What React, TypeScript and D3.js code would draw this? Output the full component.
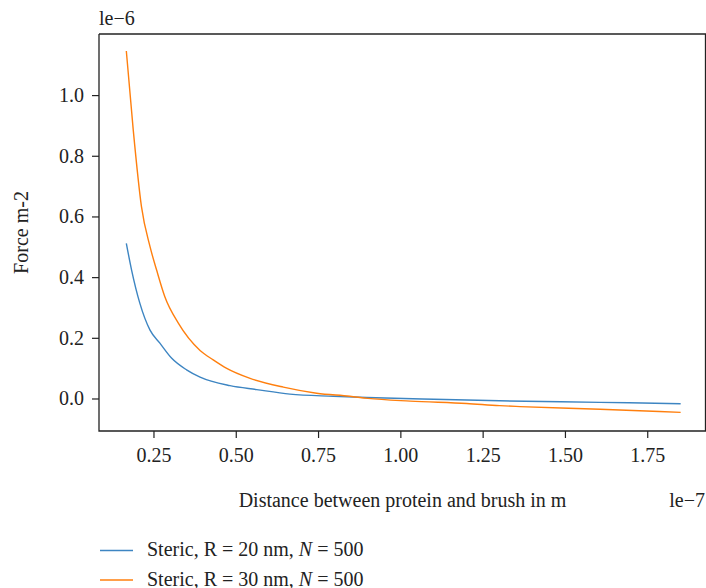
import React from "react";
import * as d3 from "d3";

// x in units of 1e-7 m, y in units of 1e-6
const xR20 = [0.166, 0.182, 0.207, 0.238, 0.268, 0.304, 0.349, 0.39, 0.481, 0.562, 0.663, 0.795, 0.896, 1.1, 1.3, 1.605, 1.85];
const yR20 = [0.513, 0.425, 0.316, 0.227, 0.184, 0.134, 0.096, 0.072, 0.044, 0.031, 0.016, 0.009, 0.005, -0.001, -0.006, -0.011, -0.0155];

const xR30 = [0.166, 0.187, 0.212, 0.238, 0.258, 0.283, 0.324, 0.39, 0.43, 0.471, 0.542, 0.643, 0.744, 0.845, 0.9, 1.028, 1.2, 1.3, 1.362, 1.605, 1.85];
const yR30 = [1.147, 0.887, 0.634, 0.502, 0.425, 0.337, 0.25, 0.16, 0.129, 0.101, 0.068, 0.039, 0.019, 0.009, 0.002, -0.007, -0.015, -0.022, -0.025, -0.034, -0.044];

const xTicks = [0.25, 0.5, 0.75, 1.0, 1.25, 1.5, 1.75];
const yTicks = [0.0, 0.2, 0.4, 0.6, 0.8, 1.0];

const seriesNames = ["Steric, R = 20 nm, ", "Steric, R = 30 nm, "];
const colors = ["#3d85c2", "#ff7f0e"];

const W = 706;
const H = 588;
const L = 99, R = 706, T = 34, B = 431;
const FONT = "'Liberation Serif', 'Times New Roman', serif";
const FS = 20;

export default function App() {
  const x = d3.scaleLinear().domain([0.083, 1.927]).range([L, R]);
  const y = d3.scaleLinear().domain([-0.1055, 1.203]).range([B, T]);
  const line = d3
    .line<[number, number]>()
    .x((d) => x(d[0]))
    .y((d) => y(d[1]))
    .curve(d3.curveMonotoneX);
  const s1 = xR20.map((v, i) => [v, yR20[i]] as [number, number]);
  const s2 = xR30.map((v, i) => [v, yR30[i]] as [number, number]);
  const series = [s1, s2];

  return (
    <svg
      width={W}
      height={H}
      style={{ position: "absolute", left: 0, top: 0, background: "#fff" }}
      fontFamily={FONT}
    >
      <rect x={0} y={0} width={W} height={H} fill="#fff" />
      {series.map((s, i) => (
        <path key={i} d={line(s) || ""} fill="none" stroke={colors[i]} strokeWidth={1.4} />
      ))}
      {/* frame */}
      <path d={`M${L},${T}H${R}`} stroke="#222" strokeWidth={1.3} />
      <path d={`M${L},${T}V${B}H${R}`} fill="none" stroke="#222" strokeWidth={1.3} />
      <path d={`M${R - 0.5},${T}V${B}`} stroke="#222" strokeWidth={1.3} />
      {/* x ticks */}
      {xTicks.map((t) => (
        <g key={t}>
          <line x1={x(t)} x2={x(t)} y1={B} y2={B + 7} stroke="#222" strokeWidth={1.2} />
          <text x={x(t)} y={462} textAnchor="middle" fontSize={FS} fill="#222">
            {t.toFixed(2)}
          </text>
        </g>
      ))}
      {/* y ticks */}
      {yTicks.map((t) => (
        <g key={t}>
          <line x1={L - 7} x2={L} y1={y(t)} y2={y(t)} stroke="#222" strokeWidth={1.2} />
          <text x={L - 15} y={y(t) + 6.5} textAnchor="end" fontSize={FS} fill="#222">
            {t.toFixed(1)}
          </text>
        </g>
      ))}
      <text x={L} y={25} fontSize={FS} fill="#222">le−6</text>
      <text x={705} y={507} textAnchor="end" fontSize={FS} fill="#222">le−7</text>
      <text x={(L + R) / 2} y={507} textAnchor="middle" fontSize={FS} fill="#222">
        Distance between protein and brush in m
      </text>
      <text
        transform={`translate(28,${(T + B) / 2}) rotate(-90)`}
        textAnchor="middle"
        fontSize={FS}
        fill="#222"
      >
        Force m-2
      </text>
      {/* legend */}
      {seriesNames.map((n, i) => (
        <g key={n}>
          <line x1={100} x2={133} y1={550.5 + i * 29.5} y2={550.5 + i * 29.5} stroke={colors[i]} strokeWidth={1.4} />
          <text x={147} y={556 + i * 29.5} fontSize={FS} fill="#222">
            {n}
            <tspan fontStyle="italic">N</tspan>
            {" = 500"}
          </text>
        </g>
      ))}
    </svg>
  );
}
